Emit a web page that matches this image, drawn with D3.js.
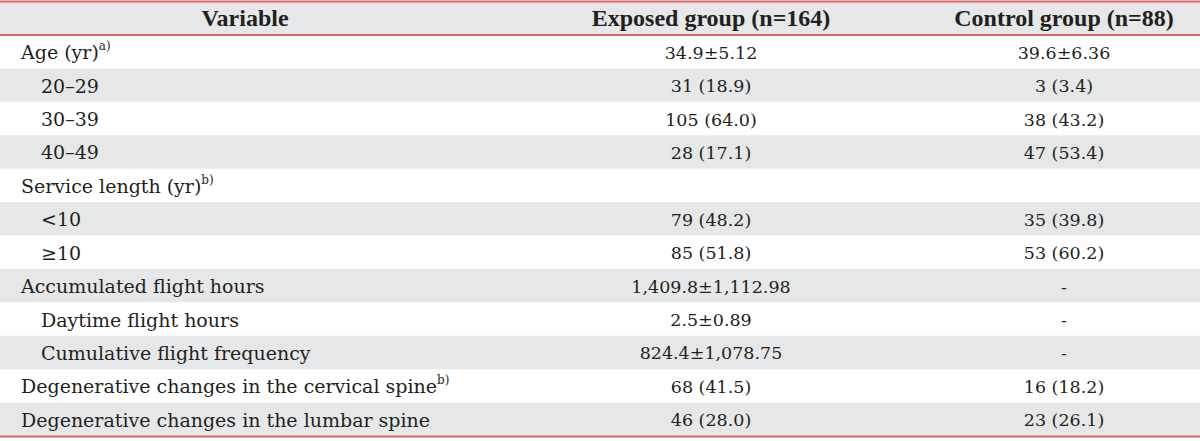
<!DOCTYPE html>
<html>
<head>
<meta charset="utf-8">
<script src="https://cdn.jsdelivr.net/npm/d3@7"></script>
<style>
  html, body { margin: 0; padding: 0; background: #ffffff; }
  svg { display: block; }
</style>
</head>
<body>
<svg id="chart" width="1200" height="441"></svg>
<script>
// ---- data ----
const columns = ["Variable", "Exposed group (n=164)", "Control group (n=88)"];
const variables = [
  "Age (yr)", "20–29", "30–39", "40–49",
  "Service length (yr)", "<10", "≥10",
  "Accumulated flight hours", "Daytime flight hours", "Cumulative flight frequency",
  "Degenerative changes in the cervical spine", "Degenerative changes in the lumbar spine"
];
const indentLevel = [0, 1, 1, 1, 0, 1, 1, 0, 1, 1, 0, 0];
const footnotes = ["a)", "", "", "", "b)", "", "", "", "", "", "b)", ""];
const exposed = [
  "34.9±5.12", "31 (18.9)", "105 (64.0)", "28 (17.1)",
  "", "79 (48.2)", "85 (51.8)",
  "1,409.8±1,112.98", "2.5±0.89", "824.4±1,078.75",
  "68 (41.5)", "46 (28.0)"
];
const control = [
  "39.6±6.36", "3 (3.4)", "38 (43.2)", "47 (53.4)",
  "", "35 (39.8)", "53 (60.2)",
  "-", "-", "-",
  "16 (18.2)", "23 (26.1)"
];

// ---- layout ----
const W = 1200, H = 441;
const svg = d3.select("#chart");
const rowIdx = d3.range(variables.length);
const headerTop = 2, headerBottom = 35, tableBottom = 436;
const y = d3.scaleBand().domain(rowIdx).range([headerBottom, tableBottom]).padding(0);
const colX = d3.scaleOrdinal().domain(columns).range([245, 711, 1064]);
const labelX = d3.scaleOrdinal().domain([0, 1]).range([21, 41]);

const gray = "#e6e7e8";
const red = "#d8666b";
const ink = "#231f20";

// header background
svg.append("rect").attr("x", 0).attr("y", headerTop).attr("width", W)
  .attr("height", headerBottom - headerTop).attr("fill", gray);

// striped rows
svg.selectAll("rect.row").data(rowIdx.filter(i => i % 2 === 1)).join("rect")
  .attr("class", "row")
  .attr("x", 0).attr("y", i => y(i)).attr("width", W).attr("height", y.bandwidth())
  .attr("fill", gray);

// rules
[1.5, headerBottom, tableBottom + 0.5].forEach(yy => {
  svg.append("line").attr("x1", 0).attr("x2", W).attr("y1", yy).attr("y2", yy)
    .attr("stroke", red).attr("stroke-width", 2);
});

// header text
svg.selectAll("text.head").data(columns).join("text")
  .attr("class", "head")
  .attr("x", d => colX(d))
  .attr("y", (headerTop + headerBottom) / 2 + 7.5)
  .attr("text-anchor", "middle")
  .attr("font-family", "Liberation Serif")
  .attr("font-weight", "bold")
  .attr("font-size", 24)
  .attr("fill", ink)
  .text(d => d);

// row labels
const labels = svg.selectAll("text.label").data(rowIdx).join("text")
  .attr("class", "label")
  .attr("x", i => labelX(indentLevel[i]))
  .attr("y", i => y(i) + y.bandwidth() / 2 + 7.5)
  .attr("font-family", "DejaVu Serif")
  .attr("font-size", 19)
  .attr("fill", ink);
labels.append("tspan").text(i => variables[i]);
labels.filter(i => footnotes[i]).append("tspan")
  .attr("dy", -9).attr("font-size", 12)
  .text(i => footnotes[i]);

// values
function valueCol(values, col) {
  svg.selectAll("text.v" + columns.indexOf(col)).data(rowIdx).join("text")
    .attr("class", "v" + columns.indexOf(col))
    .attr("x", colX(col))
    .attr("y", i => y(i) + y.bandwidth() / 2 + 7)
    .attr("text-anchor", "middle")
    .attr("font-family", "DejaVu Serif")
    .attr("font-size", 17.5)
    .attr("fill", ink)
    .text(i => values[i]);
}
valueCol(exposed, columns[1]);
valueCol(control, columns[2]);
</script>
</body>
</html>
